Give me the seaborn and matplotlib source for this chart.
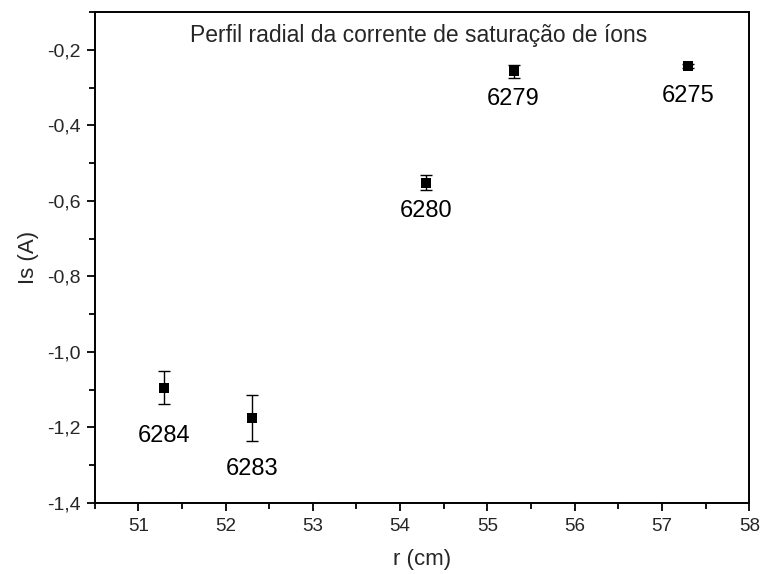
import matplotlib
matplotlib.use("Agg")
import matplotlib.pyplot as plt
import seaborn as sns
import numpy as np
import pandas as pd
from matplotlib.ticker import MultipleLocator, FixedLocator, FixedFormatter

# Data
r_cm = [51.3, 52.3, 54.3, 55.3, 57.3]
is_A = [-1.095, -1.176, -0.552, -0.257, -0.242]
is_err = [0.044, 0.061, 0.020, 0.017, 0.005]
shots = ["6284", "6283", "6280", "6279", "6275"]
label_offsets_px = [48, 51, 28, 28, 30]  # downward label offsets (style)

yticks = [-1.4, -1.2, -1.0, -0.8, -0.6, -0.4, -0.2]
ytick_labels = ["-1,4", "-1,2", "-1,0", "-0,8", "-0,6", "-0,4", "-0,2"]
xticks = [51, 52, 53, 54, 55, 56, 57, 58]

sns.set_theme(style="white")
plt.rcParams['font.family'] = ['Liberation Sans', 'DejaVu Sans']

df = pd.DataFrame({"r": r_cm, "Is": is_A, "err": is_err, "shot": shots})

fig = plt.figure(figsize=(7.63, 5.74), dpi=100)
ax = fig.add_axes([0.124, 0.124, 0.858, 0.855])

ax.errorbar(df["r"], df["Is"], yerr=df["err"], fmt="none", ecolor="black",
            elinewidth=1.0, capsize=4, capthick=1.0, zorder=2)
sns.scatterplot(data=df, x="r", y="Is", marker="s", s=55, color="black",
                edgecolor="black", linewidth=0, ax=ax, zorder=3)

for xv, yv, lab, off in zip(df["r"], df["Is"], df["shot"], label_offsets_px):
    ax.annotate(lab, (xv, yv), xytext=(0, -off * 0.72), textcoords="offset points",
                ha="center", va="center", fontsize=17, color="black")

ax.text(0.495, 0.952, "Perfil radial da corrente de saturação de íons",
        transform=ax.transAxes, ha="center", va="center", fontsize=16.5)

ax.set_xlim(50.5, 58)
ax.set_ylim(-1.4, -0.1)
ax.xaxis.set_major_locator(FixedLocator(xticks))
ax.xaxis.set_minor_locator(MultipleLocator(0.5))
ax.yaxis.set_major_locator(FixedLocator(yticks))
ax.yaxis.set_major_formatter(FixedFormatter(ytick_labels))
ax.yaxis.set_minor_locator(MultipleLocator(0.1))

ax.tick_params(axis="both", which="major", direction="out", length=6, width=1.3,
               labelsize=14, color="black", bottom=True, left=True, top=False, right=False)
ax.tick_params(axis="both", which="minor", direction="out", length=4, width=1.3,
               color="black", bottom=True, left=True, top=False, right=False)
ax.tick_params(axis="x", pad=5, labelsize=13.5)
ax.tick_params(axis="y", pad=4)

for sp in ax.spines.values():
    sp.set_visible(True)
    sp.set_color("black")
    sp.set_linewidth(1.4)

ax.set_xlabel("r (cm)", fontsize=16, labelpad=10)
ax.set_ylabel("Is (A)", fontsize=16, labelpad=6)
ax.grid(False)

fig.savefig("out.png", dpi=100)
